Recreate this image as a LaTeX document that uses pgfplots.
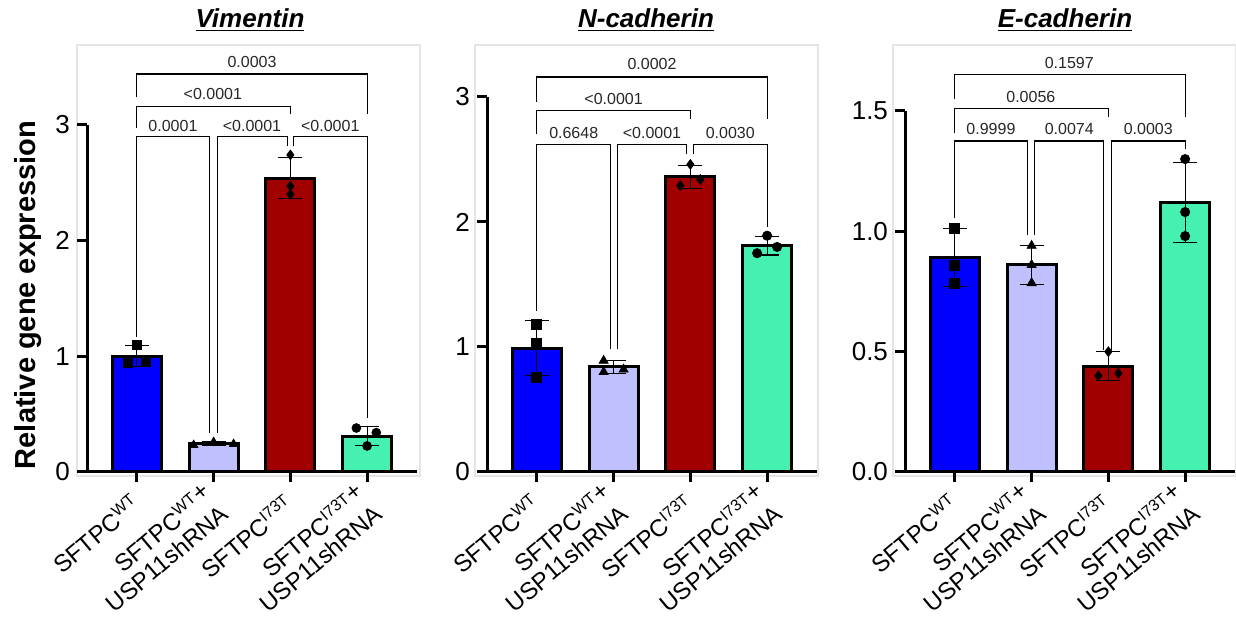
\documentclass[border=0pt]{standalone}
\usepackage{fontspec}
\setmainfont{Liberation Sans}
\usepackage{pgfplots}
\pgfplotsset{compat=1.18}

\definecolor{cblue}{HTML}{0000FF}
\definecolor{clav}{HTML}{C0C0FF}
\definecolor{cred}{HTML}{A00000}
\definecolor{cgreen}{HTML}{45F0B0}

\newcommand{\twoline}[2]{\begin{tabular}[t]{@{}r@{\hspace{1.5pt}}}#1\hspace{4pt}\\#2\end{tabular}}

\pgfplotsset{
  panel/.style={
    scale only axis, width=165pt, height=213.5pt,
    xmin=-0.65, xmax=3.65, ymin=0,
    clip=false,
    axis line style={draw=none},
    xtick pos=bottom, ytick pos=left,
    tick align=outside, major tick length=5pt,
    tick style={black, line width=1.5pt},
    xtick={0,2},
    xticklabels={SFTPC\textsuperscript{WT}, SFTPC\textsuperscript{I73T}},
    extra x ticks={1,3},
    extra x tick labels={{\twoline{SFTPC\textsuperscript{WT}\raisebox{0.4ex}{+}}{USP11shRNA}},
      {\twoline{SFTPC\textsuperscript{I73T}\raisebox{0.4ex}{+}}{USP11shRNA}}},
    extra x tick style={x tick label style={xshift=2.7pt, yshift=5.5pt}},
    x tick label style={xshift=-3.5pt, yshift=-5pt, rotate=40, anchor=north east,
      font=\fontsize{12}{12.5}\selectfont, inner sep=0pt},
    y tick label style={font=\fontsize{13}{15}\selectfont},
    /pgf/number format/assume math mode=true,
  },
  bar/.style={ybar, bar width=0.64, draw=black, line width=1.5pt, fill=#1,
    error bars/.cd, y dir=both, y explicit,
    error bar style={black, line width=0.6pt},
    error mark options={black, mark size=6pt, line width=0.6pt, rotate=90}},
  pts/.style={only marks, mark=#1, black, mark size=2.4pt},
}
\tikzset{
  br/.style={black, line width=0.6pt},
  pl/.style={font=\fontsize{8}{9}\selectfont, inner sep=0pt, text=black!85},
}

\begin{document}
\begin{tikzpicture}
\useasboundingbox (0,0) rectangle (618pt,310pt);
\draw[gray!20, line width=0.6pt] (38.5pt,72pt) rectangle (210pt,287.5pt);
\draw[gray!20, line width=0.6pt] (237.5pt,72pt) rectangle (409pt,287.5pt);
\draw[gray!20, line width=0.6pt] (446.5pt,72pt) rectangle (618pt,287.5pt);

% ---- Vimentin
\begin{axis}[panel, at={(43.5pt,74pt)}, anchor=south west, ymax=3.69, ytick={0,1,2,3}]
\addplot[bar=cblue] coordinates {(0,1.00) +- (0,0.09)};
\addplot[bar=clav] coordinates {(1,0.245) +- (0,0.015)};
\addplot[bar=cred] coordinates {(2,2.54) +- (0,0.18)};
\addplot[bar=cgreen] coordinates {(3,0.31) +- (0,0.08)};
\addplot[pts=square*, mark size=2.2pt] coordinates {(0,1.10) (-0.12,0.94) (0.12,0.95)};
\addplot[pts=triangle*, mark size=2.4pt] coordinates {(0.74,0.233) (1,0.259) (1.26,0.242)};
\addplot[pts=diamond*] coordinates {(2,2.74) (2,2.47) (2,2.40)};
\addplot[pts=*, mark size=2.2pt] coordinates {(2.86,0.38) (3.12,0.34) (3,0.225)};
\draw[line width=1.5pt] (axis cs:-0.65,3) -- (axis cs:-0.65,0) -- (axis cs:3.65,0);
\draw[br] (axis cs:0,1.17) |- (axis cs:0.95,2.90) -- (axis cs:0.95,0.34);
\draw[br] (axis cs:1.05,0.34) |- (axis cs:1.96,2.90) -- (axis cs:1.96,2.82);
\draw[br] (axis cs:2.04,2.82) |- (axis cs:3,2.90) -- (axis cs:3,0.47);
\draw[br] (axis cs:0,2.97) |- (axis cs:2,3.16) -- (axis cs:2,3.09);
\draw[br] (axis cs:0,3.24) |- (axis cs:3,3.44) -- (axis cs:3,3.09);
\node[pl] at (axis cs:0.47,2.99) {0.0001};
\node[pl] at (axis cs:1.50,2.99) {<0.0001};
\node[pl] at (axis cs:2.52,2.99) {<0.0001};
\node[pl] at (axis cs:0.99,3.27) {<0.0001};
\node[pl] at (axis cs:1.50,3.54) {0.0003};
\end{axis}

% ---- N-cadherin
\begin{axis}[panel, at={(243.5pt,74pt)}, anchor=south west, ymax=3.416, ytick={0,1,2,3}]
\addplot[bar=cblue] coordinates {(0,0.99) +- (0,0.22)};
\addplot[bar=clav] coordinates {(1,0.84) +- (0,0.055)};
\addplot[bar=cred] coordinates {(2,2.36) +- (0,0.09)};
\addplot[bar=cgreen] coordinates {(3,1.81) +- (0,0.075)};
\addplot[pts=square*, mark size=2.5pt] coordinates {(0,1.18) (0,1.03) (0,0.76)};
\addplot[pts=triangle*, mark size=2.6pt] coordinates {(0.87,0.89) (0.87,0.80) (1.13,0.82)};
\addplot[pts=diamond*] coordinates {(2,2.46) (1.87,2.29) (2.13,2.34)};
\addplot[pts=*, mark size=2.3pt] coordinates {(3,1.89) (2.87,1.75) (3.13,1.80)};
\draw[line width=1.5pt] (axis cs:-0.65,3) -- (axis cs:-0.65,0) -- (axis cs:3.65,0);
\draw[br] (axis cs:0,1.29) |- (axis cs:0.96,2.62) -- (axis cs:0.96,0.98);
\draw[br] (axis cs:1.05,0.98) |- (axis cs:1.95,2.62) -- (axis cs:1.95,2.54);
\draw[br] (axis cs:2.04,2.54) |- (axis cs:3,2.62) -- (axis cs:3,1.96);
\draw[br] (axis cs:0,2.70) |- (axis cs:2,2.89) -- (axis cs:2,2.82);
\draw[br] (axis cs:0,2.96) |- (axis cs:3,3.16) -- (axis cs:3,2.82);
\node[pl] at (axis cs:0.48,2.71) {0.6648};
\node[pl] at (axis cs:1.50,2.71) {<0.0001};
\node[pl] at (axis cs:2.52,2.71) {0.0030};
\node[pl] at (axis cs:1.00,2.98) {<0.0001};
\node[pl] at (axis cs:1.50,3.26) {0.0002};
\end{axis}

% ---- E-cadherin
\begin{axis}[panel, at={(452.5pt,74pt)}, anchor=south west, ymax=1.774, ytick={0,0.5,1,1.5},
  yticklabel style={/pgf/number format/.cd, fixed, fixed zerofill, precision=1}]
\addplot[bar=cblue] coordinates {(0,0.89) +- (0,0.12)};
\addplot[bar=clav] coordinates {(1,0.86) +- (0,0.08)};
\addplot[bar=cred] coordinates {(2,0.44) +- (0,0.06)};
\addplot[bar=cgreen] coordinates {(3,1.12) +- (0,0.165)};
\addplot[pts=square*, mark size=2.5pt] coordinates {(0,1.01) (0,0.86) (0,0.785)};
\addplot[pts=triangle*, mark size=2.6pt] coordinates {(1,0.94) (1,0.86) (1,0.785)};
\addplot[pts=diamond*] coordinates {(2,0.50) (1.87,0.40) (2.13,0.41)};
\addplot[pts=*, mark size=2.3pt] coordinates {(3,1.30) (3,1.08) (3,0.98)};
\draw[line width=1.5pt] (axis cs:-0.65,1.5) -- (axis cs:-0.65,0) -- (axis cs:3.65,0);
\draw[br] (axis cs:0,1.055) |- (axis cs:0.95,1.375) -- (axis cs:0.95,0.985);
\draw[br] (axis cs:1.04,0.985) |- (axis cs:1.94,1.375) -- (axis cs:1.94,0.507);
\draw[br] (axis cs:2.04,0.507) |- (axis cs:3,1.375) -- (axis cs:3,1.34);
\draw[br] (axis cs:0,1.41) |- (axis cs:2,1.51) -- (axis cs:2,1.475);
\draw[br] (axis cs:0,1.55) |- (axis cs:3,1.65) -- (axis cs:3,1.475);
\node[pl] at (axis cs:0.47,1.425) {0.9999};
\node[pl] at (axis cs:1.49,1.425) {0.0074};
\node[pl] at (axis cs:2.52,1.425) {0.0003};
\node[pl] at (axis cs:0.99,1.56) {0.0056};
\node[pl] at (axis cs:1.49,1.70) {0.1597};
\end{axis}

\node[font=\fontsize{13}{15}\selectfont\bfseries\itshape] at (125pt,300pt) {\underline{Vimentin}};
\node[font=\fontsize{13}{15}\selectfont\bfseries\itshape] at (323pt,300pt) {\underline{N-cadherin}};
\node[font=\fontsize{13}{15}\selectfont\bfseries\itshape] at (532.5pt,300pt) {\underline{E-cadherin}};
\node[font=\fontsize{14.5}{16}\selectfont\bfseries, rotate=90] at (14pt,162.5pt) {Relative gene expression};
\end{tikzpicture}
\end{document}
